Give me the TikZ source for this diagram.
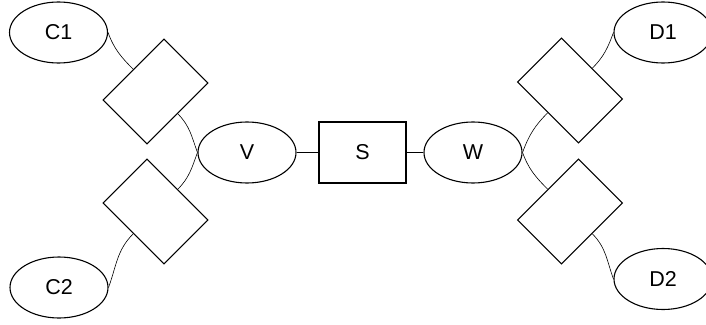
\documentclass[tikz,border=0pt]{standalone}
\usepackage{fontspec}
\setmainfont{Liberation Sans}
\usetikzlibrary{shapes.geometric}
\begin{document}
\begin{tikzpicture}[x=1pt,y=1pt,
  ell/.style={draw,ellipse,line width=1.1pt,minimum width=98pt,minimum height=61pt,inner sep=0pt,font=\fontsize{21.5}{25}\selectfont},
  box/.style={draw,rectangle,line width=1.1pt,minimum width=86pt,minimum height=62pt,inner sep=0pt,font=\fontsize{21.5}{25}\selectfont},
  rbox/.style={draw,rectangle,line width=1.1pt,minimum width=86pt,minimum height=62pt,inner sep=0pt},
  link/.style={line width=0.6pt}]
\clip (0,0) rectangle (706,-324);
\useasboundingbox (0,0) rectangle (706,-324);
\node[ell] (C1) at (58.5,-32.5) {C1};
\node[ell] (C2) at (59,-287.5) {C2};
\node[ell] (V) at (247,-152.5) {V};
\node[box,minimum width=87pt,minimum height=61pt] (S) at (362.5,-152.5) {S};
\node[ell] (W) at (473,-152.5) {W};
\node[ell] (D1) at (663,-32.5) {D1};
\node[ell] (D2) at (663,-279) {D2};
\node[rbox,rotate=45] (R1) at (155.5,-91.5) {};
\node[rbox,rotate=-45] (R2) at (155.5,-211.5) {};
\node[rbox,rotate=-45] (R3) at (570,-90.5) {};
\node[rbox,rotate=45] (R4) at (570,-211.5) {};
\draw[link] (V) -- (S);
\draw[link] (S) -- (W);
\draw[link] (C1.east) to[out=-70,in=135] (R1.north);
\draw[link] (R1.south) to[out=-45,in=110] (V.west);
\draw[link] (R2.north) to[out=45,in=-110] (V.west);
\draw[link] (R2.south) to[out=-135,in=70] (C2.east);
\draw[link] (W.east) to[out=70,in=-135] (R3.south);
\draw[link] (R3.north) to[out=45,in=-110] (D1.west);
\draw[link] (W.east) to[out=-70,in=135] (R4.north);
\draw[link] (R4.south) to[out=-45,in=110] (D2.west);
\end{tikzpicture}
\end{document}
